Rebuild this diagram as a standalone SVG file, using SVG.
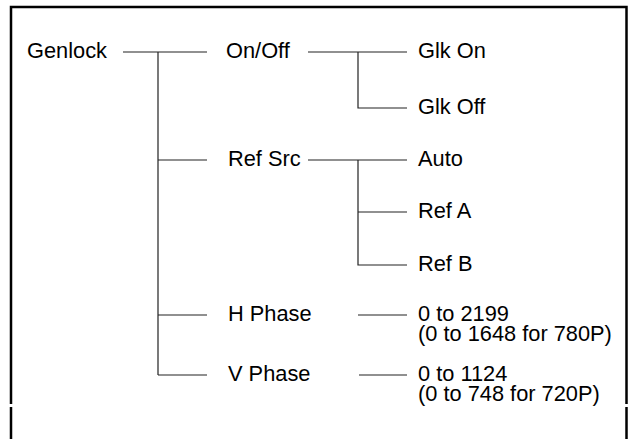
<svg xmlns="http://www.w3.org/2000/svg" width="634" height="439" viewBox="0 0 634 439">
<style>
text{font-family:"Liberation Sans",Arial,sans-serif;font-size:21.8px;fill:#000}
.c{stroke:#222;stroke-width:1.2;fill:none}
.f{stroke:#000;stroke-width:2.5;fill:none}
</style>
<rect width="634" height="439" fill="#fff"/>
<g id="frame">
<path class="f" d="M11 439V407M11 404V7H626.5V404M626.5 407V439"/>
</g>
<g id="connectors">
<path class="c" d="M123 52H207M158 52V375M158 160H207M158 315H207M158 375H207"/>
<path class="c" d="M308 52H407M358 52V108H407"/>
<path class="c" d="M308 160H407M358 160V265H407M358 212H407"/>
<path class="c" d="M358 315H407M359 375H407"/>
</g>
<g id="genlock"><text x="27" y="58">Genlock</text></g>
<g id="onoff"><text x="226" y="58">On/Off</text></g>
<g id="refsrc"><text x="228" y="166">Ref Src</text></g>
<g id="hphase"><text x="228" y="321">H Phase</text></g>
<g id="vphase"><text x="228" y="381">V Phase</text></g>
<g id="glkon"><text x="418" y="58">Glk On</text></g>
<g id="glkoff"><text x="418" y="114">Glk Off</text></g>
<g id="auto"><text x="418" y="166">Auto</text></g>
<g id="refa"><text x="418" y="218">Ref A</text></g>
<g id="refb"><text x="418" y="271">Ref B</text></g>
<g id="hrange"><text x="418" y="321">0 to 2199<tspan x="418" dy="20">(0 to 1648 for 780P)</tspan></text></g>
<g id="vrange"><text x="418" y="381">0 to 1124<tspan x="418" dy="20">(0 to 748 for 720P)</tspan></text></g>
</svg>
